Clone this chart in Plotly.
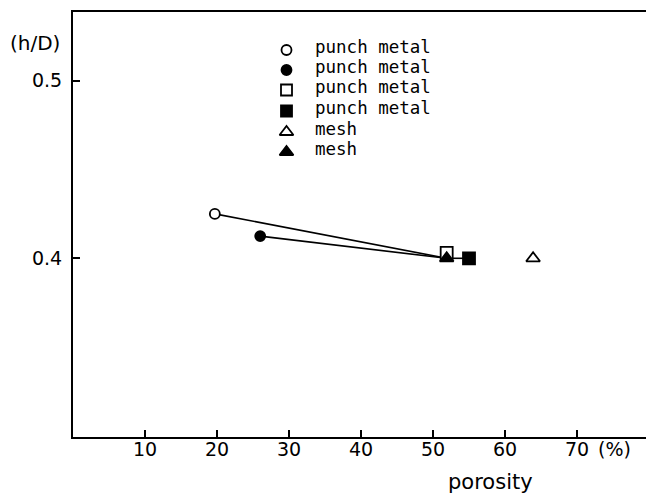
import plotly.graph_objects as go

# ---- data ----
series_names = ["punch metal", "punch metal", "punch metal", "punch metal", "mesh", "mesh"]
series_symbols = ["circle", "circle", "square", "square", "triangle-up", "triangle-up"]
series_filled = [False, True, False, True, False, True]
porosity = [19.7, 26.0, 51.9, 55.0, 63.9, 51.9]      # %
h_over_d = [0.425, 0.4125, 0.403, 0.400, 0.400, 0.400]
links = [(0, 5), (1, 5), (5, 3)]                      # connected points

x_ticks = [10, 20, 30, 40, 50, 60, 70]
y_ticks = [0.4, 0.5]

W, H = 649, 497
L, R, T, B = 73, 3, 12, 60
PW, PH = W - L - R, H - T - B

FONT = "DejaVu Sans"
MONO = "DejaVu Sans Mono"

fig = go.Figure()

# connecting lines
for a, b in links:
    fig.add_trace(go.Scatter(
        x=[porosity[a], porosity[b]], y=[h_over_d[a], h_over_d[b]],
        mode="lines", line=dict(color="black", width=1.6),
        showlegend=False, hoverinfo="skip"))

sizes = {"circle": 10, "square": 12, "triangle-up": 12}
# open markers first, filled on top
order = [0, 2, 4, 1, 3, 5]
for i in order:
    sym = series_symbols[i]
    fig.add_trace(go.Scatter(
        x=[porosity[i]], y=[h_over_d[i]], mode="markers", name=series_names[i],
        marker=dict(symbol=sym, size=sizes[sym],
                    color="black" if series_filled[i] else "white",
                    line=dict(color="black", width=1.8)),
        showlegend=False))

# custom legend (key markers on an overlay axis in plot-fraction units)
def px2fx(px):
    return (px - L) / PW

def py2fy(py):
    return 1 - (py - T) / PH

legend_marker_x = 286.5
legend_text_x = 313
legend_rows_y = [50, 70, 90, 111, 132, 152]
leg_sizes = {"circle": 10, "square": 11, "triangle-up": 12}
for i, yy in enumerate(legend_rows_y):
    sym = series_symbols[i]
    fig.add_trace(go.Scatter(
        x=[px2fx(legend_marker_x)], y=[py2fy(yy)], xaxis="x2", yaxis="y2",
        mode="markers",
        marker=dict(symbol=sym, size=leg_sizes[sym],
                    color="black" if series_filled[i] else "white",
                    line=dict(color="black", width=1.8)),
        showlegend=False, hoverinfo="skip"))
    fig.add_annotation(x=px2fx(legend_text_x), y=py2fy(yy - 3), xref="x2", yref="y2",
                       text=series_names[i], showarrow=False, xanchor="left",
                       yanchor="middle", font=dict(family=MONO, size=17.5, color="black"))

# axis ranges from pixel calibration
x_per_px = 1 / 7.2
x_range = [0, PW * x_per_px]
y_per_px = 0.1 / 177.6
y_bottom = 0.4 - (T + PH - 258.3) * y_per_px
y_top = y_bottom + PH * y_per_px

fig.update_layout(
    width=W, height=H,
    margin=dict(l=L, r=R, t=T, b=B, pad=0),
    paper_bgcolor="white", plot_bgcolor="white",
    showlegend=False,
    font=dict(family=FONT, size=19, color="black"),
    xaxis=dict(range=x_range, tickmode="array", tickvals=x_ticks,
               ticktext=[str(v) for v in x_ticks],
               ticks="inside", ticklen=7, tickwidth=1.5, tickcolor="black",
               showline=True, linecolor="black", linewidth=2, mirror=True,
               showgrid=False, zeroline=False, ticklabelstandoff=-6,
               tickfont=dict(family=FONT, size=19)),
    yaxis=dict(range=[y_bottom, y_top], tickmode="array", tickvals=y_ticks,
               ticktext=["0.4", "0.5"],
               ticks="inside", ticklen=7, tickwidth=1.5, tickcolor="black",
               showline=True, linecolor="black", linewidth=2,
               showgrid=False, zeroline=False, ticklabelstandoff=5,
               tickfont=dict(family=FONT, size=19)),
    xaxis2=dict(overlaying="x", range=[0, 1], visible=False),
    yaxis2=dict(overlaying="y", range=[0, 1], visible=False),
)

# axis labels / units (placed in pixels, converted below)
fig.add_annotation(x=35, y=42.5, xref="paper", yref="paper", text="(h/D)",
                   showarrow=False, font=dict(family=FONT, size=20))
fig.add_annotation(x=614, y=449, xref="paper", yref="paper", text="(%)",
                   showarrow=False, font=dict(family=FONT, size=19))
fig.add_annotation(x=490, y=482, xref="paper", yref="paper", text="porosity",
                   showarrow=False, font=dict(family=FONT, size=21))

for ann in fig.layout.annotations:
    if ann.xref == "paper":
        ann.x = (ann.x - L) / PW
        ann.y = 1 - (ann.y - T) / PH
        ann.xanchor = "center"
        ann.yanchor = "middle"

fig.write_html("out.html")
